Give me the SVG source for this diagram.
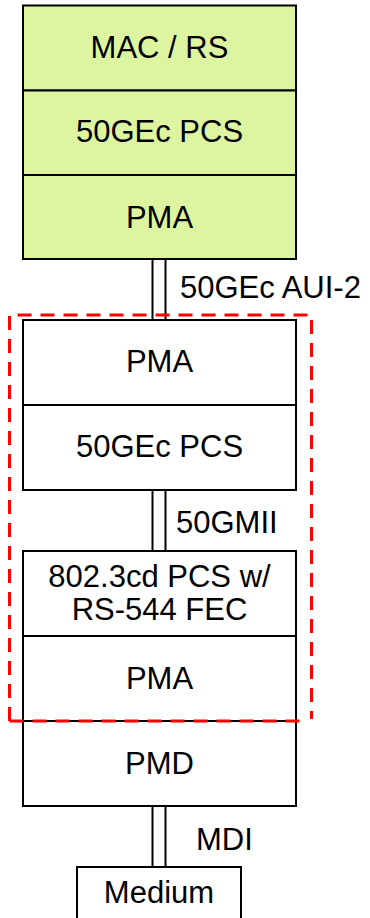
<svg xmlns="http://www.w3.org/2000/svg" width="370" height="918" viewBox="0 0 370 918">
<style>
.box{stroke:#000;stroke-width:2;fill:#fff}
.green{fill:#DDF5A1}
.conn{stroke:#000;stroke-width:2;fill:none}
text{font-family:"Liberation Sans",Arial,sans-serif;font-size:31px;fill:#000}
.c{text-anchor:middle}
.dash{fill:none;stroke:#FF0000;stroke-width:3;stroke-dasharray:14 9}
</style>
<rect width="370" height="918" fill="#fff"/>
<g id="connectors">
<path class="conn" d="M152.5 259V321M165.5 259V321"/>
<path class="conn" d="M152.5 490V551M165.5 490V551"/>
<path class="conn" d="M152.5 806V867M165.5 806V867"/>
</g>
<g id="mac-rs"><rect class="box green" x="23" y="5.5" width="273" height="85"/><text class="c" x="159.5" y="58">MAC / RS</text></g>
<g id="pcs-top"><rect class="box green" x="23" y="90.5" width="273" height="84.5"/><text class="c" x="159.5" y="142">50GEc PCS</text></g>
<g id="pma-top"><rect class="box green" x="23" y="175" width="273" height="84"/><text class="c" x="159.5" y="228">PMA</text></g>
<g id="aui-label"><text x="180" y="298">50GEc AUI-2</text></g>
<g id="pma-2"><rect class="box" x="23" y="320" width="273" height="85"/><text class="c" x="159.5" y="372">PMA</text></g>
<g id="pcs-2"><rect class="box" x="23" y="405" width="273" height="85"/><text class="c" x="159.5" y="457">50GEc PCS</text></g>
<g id="gmii-label"><text x="176" y="533">50GMII</text></g>
<g id="pcs-fec"><rect class="box" x="23" y="551" width="273" height="85"/><text class="c" x="159.5" y="587">802.3cd PCS w/</text><text class="c" x="159.5" y="620">RS-544 FEC</text></g>
<g id="pma-3"><rect class="box" x="23" y="636" width="273" height="85"/><text class="c" x="159.5" y="689">PMA</text></g>
<g id="pmd"><rect class="box" x="23" y="721" width="273" height="85"/><text class="c" x="159.5" y="774">PMD</text></g>
<g id="mdi-label"><text x="196" y="850">MDI</text></g>
<g id="medium"><rect class="box" x="77" y="867" width="164" height="60"/><text class="c" x="159" y="903">Medium</text></g>
<g id="boundary">
<path class="dash" d="M9.5 721V315H311.5V719"/>
<path class="dash" d="M9.5 721H303"/>
</g>
</svg>
